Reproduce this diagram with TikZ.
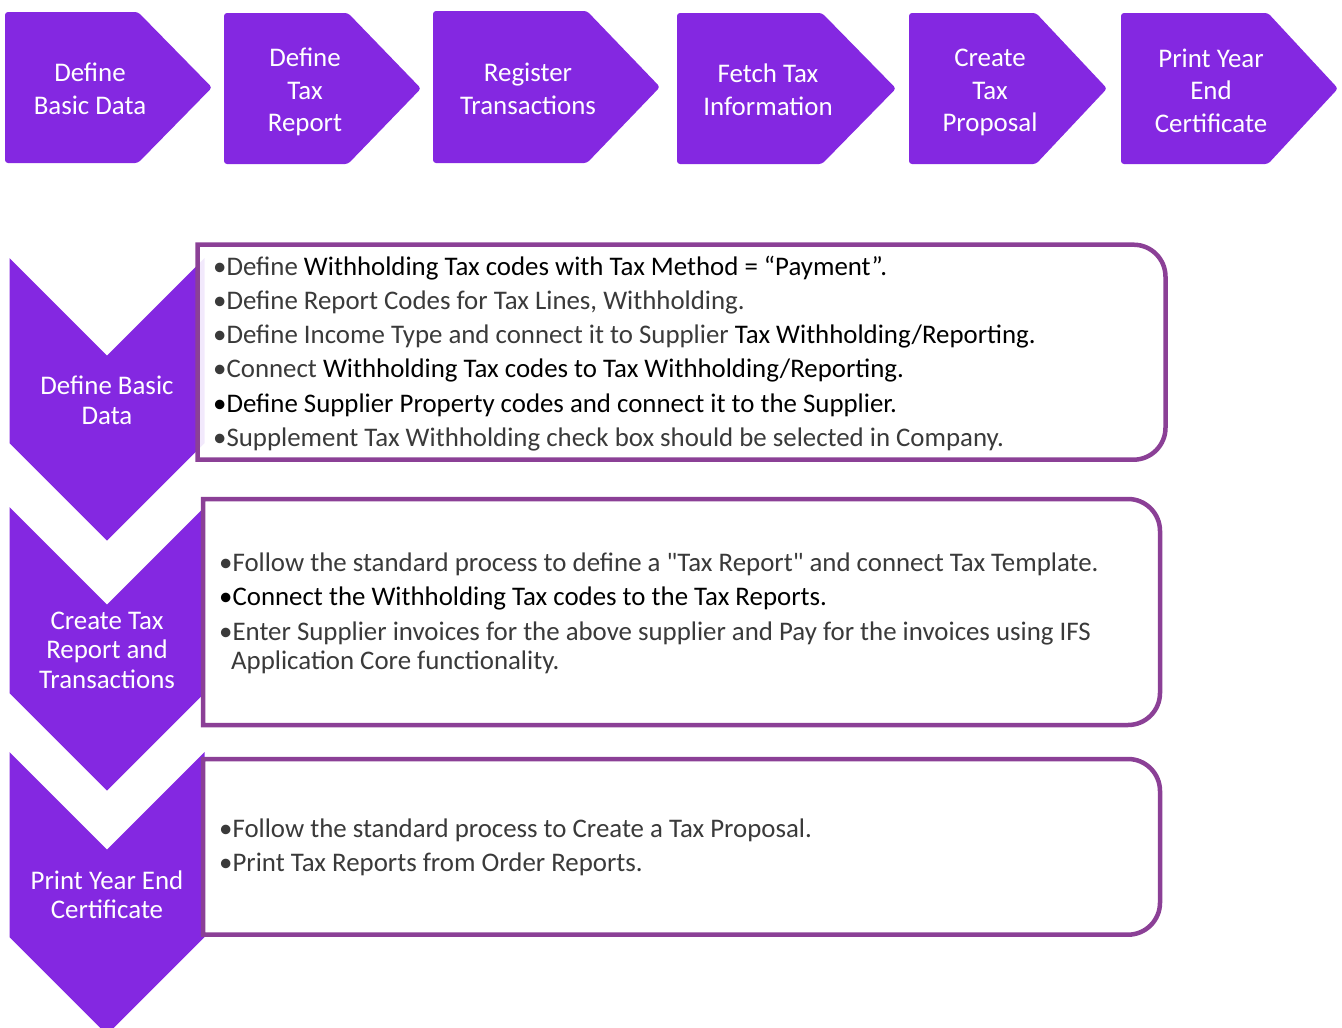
\documentclass[tikz,border=0pt]{standalone}
\usepackage{fontspec}
\setmainfont{Carlito}[Ligatures=TeXOff]
\definecolor{chev}{HTML}{8428E1}
\definecolor{boxline}{HTML}{8B4096}
\definecolor{txtgray}{HTML}{3A3A3A}
\begin{document}
\begin{tikzpicture}[x=1pt,y=-1pt,
  chevfill/.style={fill=chev, draw=none},
  toplabel/.style={text=white, align=center, font=\fontsize{26.9}{32.5}\selectfont, inner sep=0},
  sidelabel/.style={text=white, align=center, font=\fontsize{26.9}{29.5}\selectfont, inner sep=0},
  panel/.style={draw=boxline, line width=4.5pt, fill=white, fill opacity=0.9},
  item/.style={anchor=base west, inner sep=0, font=\fontsize{26.85}{30}\selectfont, text=txtgray},
]
\useasboundingbox (0,0) rectangle (1342,1028);

% top process chevrons
\fill[chevfill, rounded corners=3] (5,12) -- (138,12) -- (212,87.5) -- (138,163) -- (5,163) -- cycle;
\fill[chevfill, rounded corners=3] (224,13) -- (348,13) -- (421,88.5) -- (348,164) -- (224,164) -- cycle;
\fill[chevfill, rounded corners=3] (433,11) -- (587,11) -- (660,87) -- (587,163) -- (433,163) -- cycle;
\fill[chevfill, rounded corners=3] (677,13) -- (822,13) -- (896,88.5) -- (822,164) -- (677,164) -- cycle;
\fill[chevfill, rounded corners=3] (909,13) -- (1036,13) -- (1107,88.5) -- (1036,164) -- (909,164) -- cycle;
\fill[chevfill, rounded corners=3] (1121,13) -- (1268,13) -- (1338,88.5) -- (1268,164) -- (1121,164) -- cycle;

\node[toplabel] (t1) at (90,89) {Define\\Basic Data};
\node[toplabel] (t2) at (305,92) {Define\\Tax\\Report};
\node[toplabel] (t3) at (528,89) {Register\\Transactions};
\node[toplabel] (t4) at (768,90) {Fetch Tax\\Information};
\node[toplabel] (t5) at (990,92.5) {Create\\Tax\\Proposal};
\node[toplabel] (t6) at (1211,90.5) {Print Year\\End\\Certificate};

% left down chevrons
\fill[chevfill] (9.5,258) -- (107,355.5) -- (204.5,258) -- (204.5,443) -- (107,540.5) -- (9.5,443) -- cycle;
\fill[chevfill] (9.5,507) -- (107,604.5) -- (204.5,507) -- (204.5,693) -- (107,790.5) -- (9.5,693) -- cycle;
\fill[chevfill] (9.5,752) -- (107,849.5) -- (204.5,752) -- (204.5,937) -- (107,1034.5) -- (9.5,937) -- cycle;

\node[sidelabel] (s1) at (107,400.5) {Define Basic\\Data};
\node[sidelabel] (s2) at (107,650) {Create Tax\\Report and\\Transactions};
\node[sidelabel] (s3) at (107,894.5) {Print Year End\\Certificate};

% panels
\path[panel] (197.5,244.7) -- (600,244.7) [rounded corners=32] -- (1165.5,244.7) -- (1165.5,459.7) -- (600,459.7) [sharp corners] -- (197.5,459.7) -- cycle;
\path[panel] (203,499) -- (600,499) [rounded corners=32] -- (1160,499) -- (1160,725) -- (600,725) [sharp corners] -- (203,725) -- cycle;
\path[panel] (203,759) -- (600,759) [rounded corners=32] -- (1160,759) -- (1160,934.7) -- (600,934.7) [sharp corners] -- (203,934.7) -- cycle;

% panel 1 text
\node[item] (a1) at (213,275) {•Define \textcolor{black}{Withholding Tax codes with Tax Method = “Payment”.}};
\node[item] (a2) at (213,309) {•Define Report Codes for Tax Lines, Withholding.};
\node[item] (a3) at (213,343.5) {•Define Income Type and connect it to Supplier \textcolor{black}{Tax Withholding/Reporting.}};
\node[item] (a4) at (213,377.5) {•Connect \textcolor{black}{Withholding Tax codes to Tax Withholding/Reporting.}};
\node[item, text=black] (a5) at (213,412) {•Define Supplier Property codes and connect it to the Supplier.};
\node[item] (a6) at (213,446) {•Supplement Tax Withholding check box should be selected in Company.};

% panel 2 text
\node[item] (b1) at (219,571.7) {•Follow the standard process to define a "Tax Report" and connect Tax Template.};
\node[item, text=black] (b2) at (219,605) {•Connect the Withholding Tax codes to the Tax Reports.};
\node[item] (b3) at (219,640) {•Enter Supplier invoices for the above supplier and Pay for the invoices using IFS};
\node[item] (b4) at (231,669.5) {Application Core functionality.};

% panel 3 text
\node[item] (c1) at (219,837.5) {•Follow the standard process to Create a Tax Proposal.};
\node[item] (c2) at (219,871.5) {•Print Tax Reports from Order Reports.};
\end{tikzpicture}
\end{document}
